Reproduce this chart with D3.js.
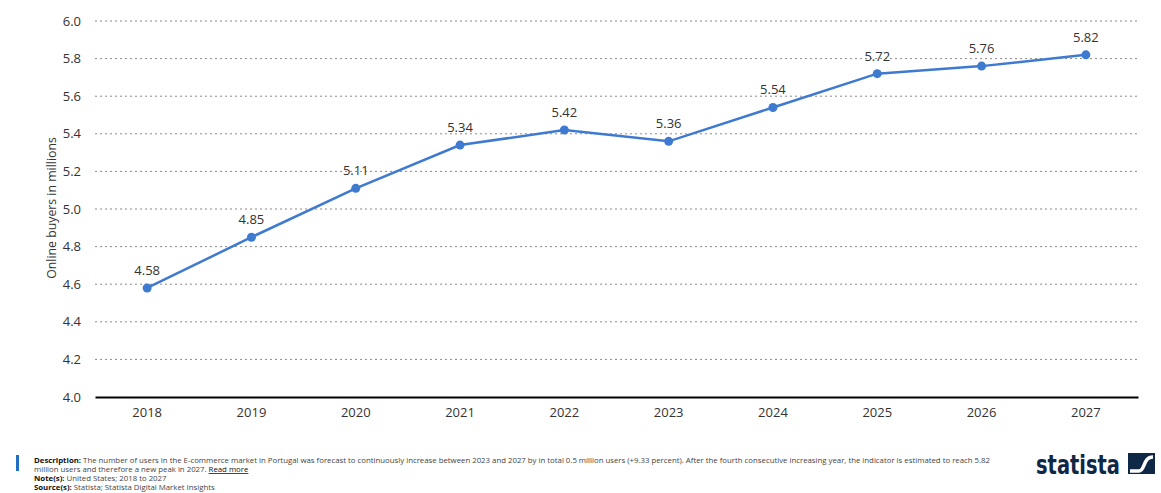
<!DOCTYPE html>
<html>
<head>
<meta charset="utf-8">
<script src="https://cdn.jsdelivr.net/npm/d3@7"></script>
<style>
  body { margin: 0; background: #fff; font-family: "Open Sans", "Noto Sans", sans-serif; }
</style>
</head>
<body>
<div id="chart"></div>
<script>
// data
var years = ["2018", "2019", "2020", "2021", "2022", "2023", "2024", "2025", "2026", "2027"];
var buyers = [4.58, 4.85, 5.11, 5.34, 5.42, 5.36, 5.54, 5.72, 5.76, 5.82];
var yTicks = [4.0, 4.2, 4.4, 4.6, 4.8, 5.0, 5.2, 5.4, 5.6, 5.8, 6.0];

var W = 1161, H = 493;
var margin = { top: 21, right: 23, bottom: 96, left: 95 },
    width = W - margin.left - margin.right,
    height = H - margin.top - margin.bottom;

var svg = d3.select("#chart").append("svg")
    .attr("width", W)
    .attr("height", H);

var g = svg.append("g")
    .attr("transform", "translate(" + margin.left + "," + margin.top + ")");

var x = d3.scaleBand().domain(years).range([0, width]);
var y = d3.scaleLinear().domain([4, 6]).range([height, 0]);

// grid lines
g.selectAll(".grid")
    .data(yTicks.slice(1))
    .enter().append("line")
    .attr("x1", 0).attr("x2", width)
    .attr("y1", function (d) { return y(d); })
    .attr("y2", function (d) { return y(d); })
    .attr("stroke", "#8a8a8a")
    .attr("stroke-width", 1)
    .attr("stroke-dasharray", "2,3");

// y axis (labels only)
var yAxis = g.append("g")
    .call(d3.axisLeft(y).tickValues(yTicks).tickFormat(d3.format(".1f")).tickSize(0).tickPadding(14));
yAxis.select(".domain").remove();
yAxis.selectAll("text").attr("font-size", 13).attr("fill", "#333").attr("font-family", "Open Sans, sans-serif");

// x axis
var xAxis = g.append("g")
    .attr("transform", "translate(0," + height + ")")
    .call(d3.axisBottom(x).tickSize(0).tickPadding(11));
xAxis.select(".domain").attr("stroke", "#000").attr("stroke-width", 2);
xAxis.selectAll("text").attr("font-size", 13).attr("fill", "#333").attr("font-family", "Open Sans, sans-serif");

// axis title
svg.append("text")
    .attr("transform", "translate(56,208) rotate(-90)")
    .attr("text-anchor", "middle")
    .attr("font-size", 12.3)
    .attr("fill", "#333")
    .text("Online buyers in millions");

var cx = function (d, i) { return x(years[i]) + x.bandwidth() / 2; };

// line
var line = d3.line()
    .x(function (d, i) { return cx(d, i); })
    .y(function (d) { return y(d); });

g.append("path")
    .datum(buyers)
    .attr("fill", "none")
    .attr("stroke", "#3f7ad1")
    .attr("stroke-width", 2.5)
    .attr("d", line);

g.selectAll(".dot")
    .data(buyers)
    .enter().append("circle")
    .attr("cx", cx)
    .attr("cy", function (d) { return y(d); })
    .attr("r", 4.5)
    .attr("fill", "#3f7ad1");

g.selectAll(".lbl")
    .data(buyers)
    .enter().append("text")
    .attr("x", cx)
    .attr("y", function (d) { return y(d) - 13; })
    .attr("text-anchor", "middle")
    .attr("font-size", 13)
    .attr("fill", "#333")
    .text(function (d) { return d.toFixed(2); });

// footer
svg.append("rect")
    .attr("x", 16).attr("y", 455).attr("width", 3).attr("height", 16)
    .attr("fill", "#1f6fc5");

var foot = svg.append("g").attr("font-size", 7.8).attr("fill", "#444");
var l1 = foot.append("text").attr("x", 34).attr("y", 463);
l1.append("tspan").attr("font-weight", "bold").attr("fill", "#111").text("Description: ");
l1.append("tspan").text("The number of users in the E-commerce market in Portugal was forecast to continuously increase between 2023 and 2027 by in total 0.5 million users (+9.33 percent). After the fourth consecutive increasing year, the indicator is estimated to reach 5.82");
var l2 = foot.append("text").attr("x", 34).attr("y", 472);
l2.append("tspan").text("million users and therefore a new peak in 2027. ");
l2.append("tspan").attr("text-decoration", "underline").attr("fill", "#111").text("Read more");
var l3 = foot.append("text").attr("x", 34).attr("y", 481);
l3.append("tspan").attr("font-weight", "bold").attr("fill", "#111").text("Note(s): ");
l3.append("tspan").text("United States; 2018 to 2027");
var l4 = foot.append("text").attr("x", 34).attr("y", 490);
l4.append("tspan").attr("font-weight", "bold").attr("fill", "#111").text("Source(s): ");
l4.append("tspan").text("Statista; Statista Digital Market Insights");

// logo
svg.append("text")
    .attr("x", 1036).attr("y", 474)
    .attr("font-size", 27)
    .attr("font-weight", "bold")
    .attr("font-family", "DejaVu Sans Condensed, Liberation Sans Narrow, sans-serif")
    .attr("fill", "#0f2846")
    .attr("textLength", 84)
    .attr("lengthAdjust", "spacingAndGlyphs")
    .text("statista");
var lg = svg.append("g").attr("transform", "translate(1128,453)");
lg.append("rect").attr("width", 27).attr("height", 21).attr("fill", "#0f2846");
lg.append("path")
    .attr("d", "M2,18 L11,18 C17,18 15,4 25,4")
    .attr("fill", "none").attr("stroke", "#fff").attr("stroke-width", 3.5);
</script>
</body>
</html>
